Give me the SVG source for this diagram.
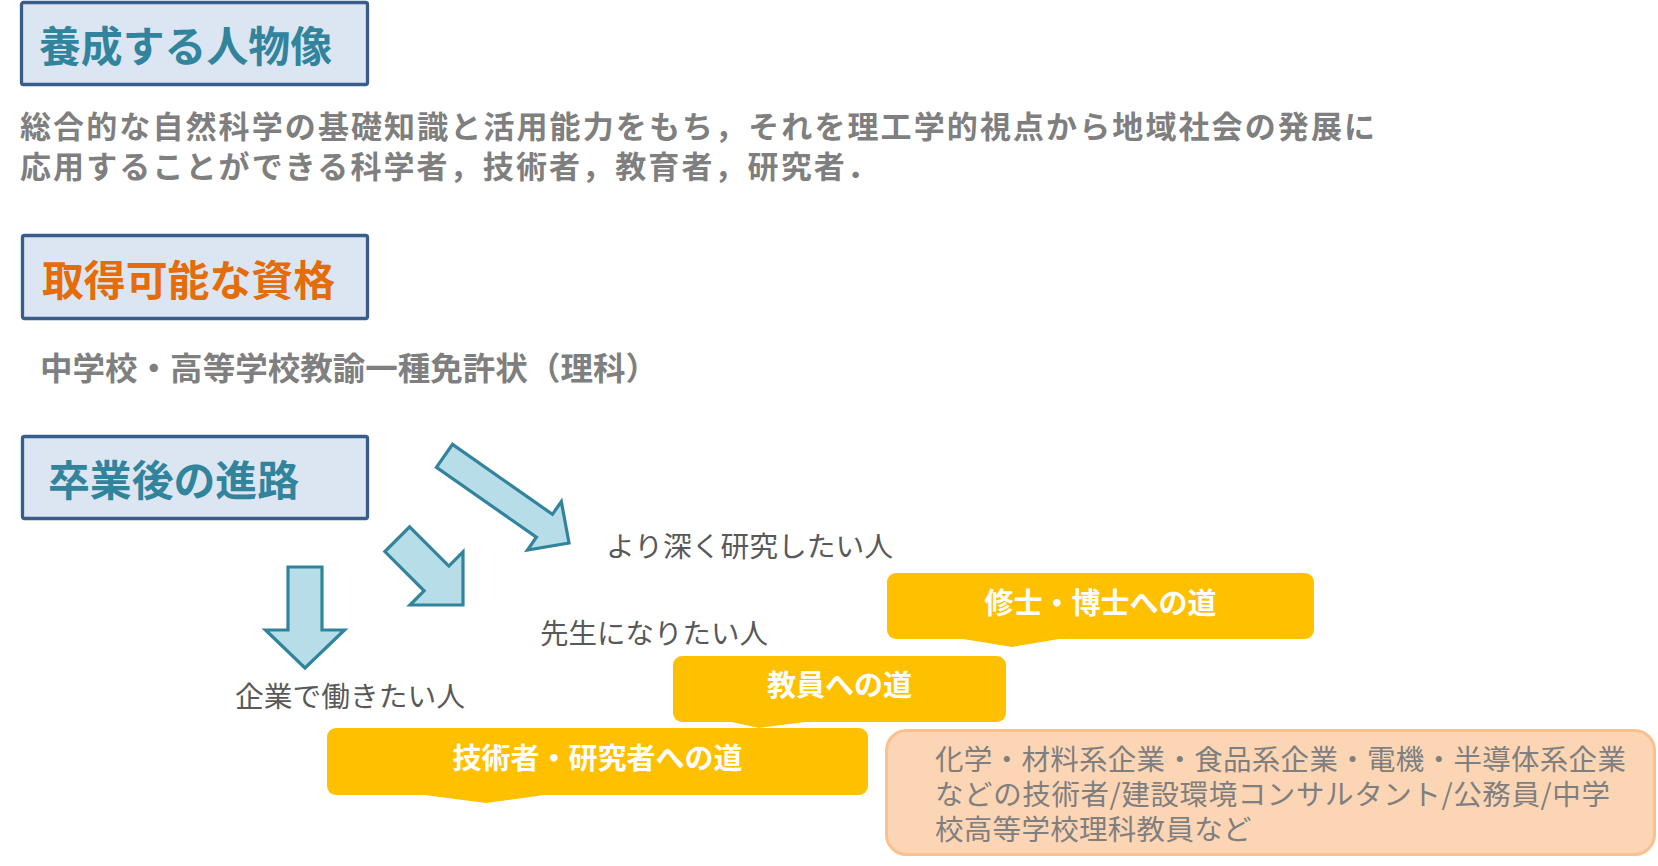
<svg xmlns="http://www.w3.org/2000/svg" width="1658" height="866" viewBox="0 0 1658 866">
<defs>
<style>
text{font-family:"Noto Sans CJK JP","Noto Sans CJK SC",sans-serif}
.hbox{fill:#DCE6F2;stroke:#385D8A;stroke-width:3.3}
.title{font-weight:bold;font-size:42px}
.teal{fill:#31849B}
.orange{fill:#E46C0A}
.body{font-weight:bold;fill:#7F7F7F}
.arrow{fill:#B7DDE8;stroke:#31849B;stroke-width:3.2;stroke-linejoin:miter}
.label{fill:#595959;font-size:28px}
.callout{fill:#FFC000}
.ctext{fill:#FFFFFF;font-weight:bold;font-size:29px;text-anchor:middle}
.peach{fill:#FCD5B5;stroke:#FAC090;stroke-width:3}
.ptext{fill:#7F7F7F;font-size:28.5px;letter-spacing:0.3px}
</style>
</defs>
<rect width="1658" height="866" fill="#FFFFFF"/>

<g id="head-jinbutsu">
<rect class="hbox" x="21.5" y="2.5" width="346" height="82" rx="2"/>
<text class="title teal" x="39" y="62" textLength="293" lengthAdjust="spacingAndGlyphs">養成する人物像</text>
</g>
<g id="desc">
<text class="body" font-size="31" letter-spacing="2.1"><tspan x="20" y="138">総合的な自然科学の基礎知識と活用能力をもち，それを理工学的視点から地域社会の発展に</tspan><tspan x="20" y="178">応用することができる科学者，技術者，教育者，研究者．</tspan></text>
</g>

<g id="head-shikaku">
<rect class="hbox" x="22.5" y="235.5" width="345" height="83" rx="2"/>
<text class="title orange" x="42" y="296" textLength="293" lengthAdjust="spacingAndGlyphs">取得可能な資格</text>
</g>
<g id="qualification">
<text class="body" font-size="32" x="40" y="380" textLength="618" lengthAdjust="spacingAndGlyphs">中学校・高等学校教諭一種免許状（理科）</text>
</g>

<g id="head-shinro">
<rect class="hbox" x="22.5" y="436.5" width="345" height="82" rx="2"/>
<text class="title teal" x="48" y="496" textLength="251" lengthAdjust="spacingAndGlyphs">卒業後の進路</text>
</g>

<g id="connectors">
<polygon class="arrow" transform="translate(305,668) rotate(90)" points="-101,-17 -38,-17 -38,-39.5 0,0 -38,39.5 -38,17 -101,17"/>
<polygon class="arrow" transform="translate(463,605) rotate(45)" points="-93,-17.5 -37.5,-17.5 -37.5,-37.5 0,0 -37.5,37.5 -37.5,17.5 -93,17.5"/>
<polygon class="arrow" transform="translate(569,543) rotate(35)" points="-152,-14 -30,-14 -30,-29.5 0,0 -30,29.5 -30,14 -152,14"/>
</g>

<g id="label-kenkyu">
<text class="label" x="606" y="557" textLength="287" lengthAdjust="spacingAndGlyphs">より深く研究したい人</text>
</g>
<g id="label-sensei">
<text class="label" x="540" y="644" textLength="228" lengthAdjust="spacingAndGlyphs">先生になりたい人</text>
</g>
<g id="label-kigyo">
<text class="label" x="235" y="707" textLength="230" lengthAdjust="spacingAndGlyphs">企業で働きたい人</text>
</g>

<g id="node-shushi">
<rect class="callout" x="887" y="573" width="427" height="66" rx="9"/>
<polygon class="callout" points="957,638 1065,638 1012,647"/>
<text class="ctext" x="1100.5" y="614">修士・博士への道</text>
</g>
<g id="node-kyoin">
<rect class="callout" x="673" y="656" width="333" height="66" rx="9"/>
<polygon class="callout" points="727,721 813,721 759,728"/>
<text class="ctext" x="839.5" y="696">教員への道</text>
</g>
<g id="node-gijutsu">
<rect class="callout" x="327" y="728" width="541" height="67" rx="9"/>
<polygon class="callout" points="417,794 552,794 486,803"/>
<text class="ctext" x="597.5" y="769">技術者・研究者への道</text>
</g>

<g id="node-careers">
<rect class="peach" x="886.5" y="730.5" width="768" height="124" rx="20"/>
<text class="ptext"><tspan x="935" y="770">化学・材料系企業・食品系企業・電機・半導体系企業</tspan><tspan x="935" y="805" letter-spacing="0.6">などの技術者/建設環境コンサルタント/公務員/中学</tspan><tspan x="935" y="840">校高等学校理科教員など</tspan></text>
</g>
</svg>
